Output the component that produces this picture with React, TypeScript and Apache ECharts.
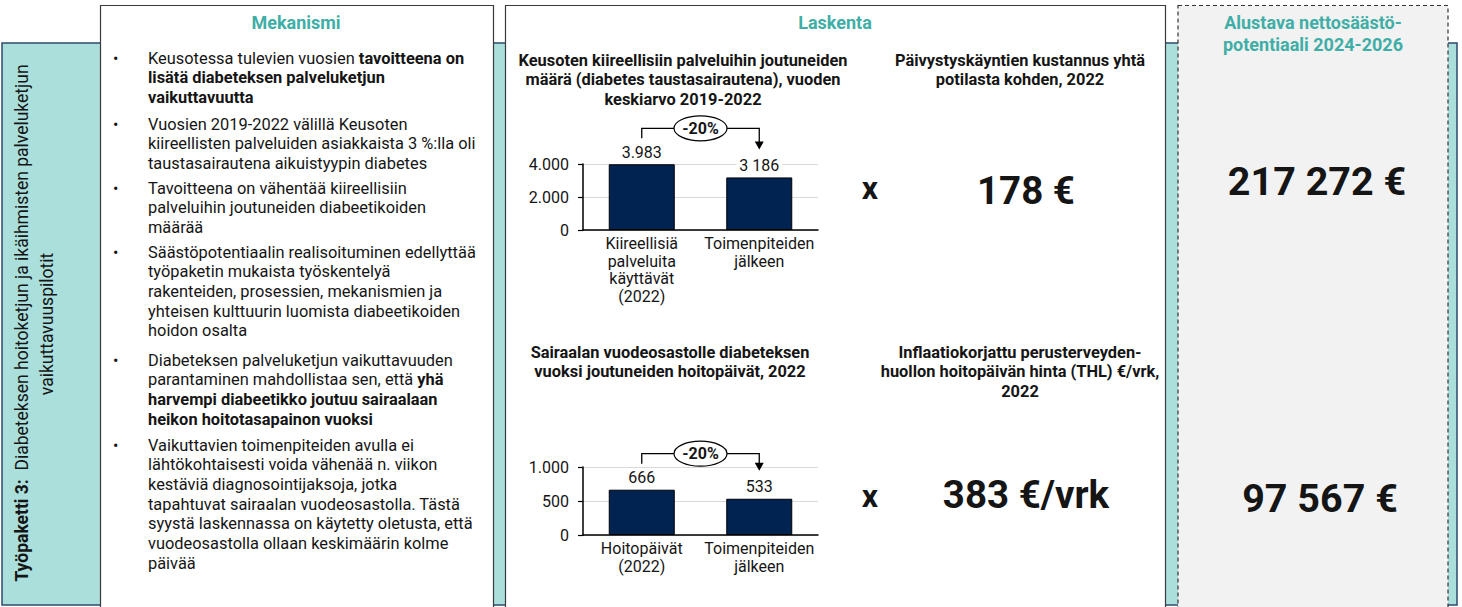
import { useEffect, useRef } from 'react';
import * as echarts from 'echarts';

const FONT = 'Roboto';
const TEAL = '#3FAEA6';
const NAVY = '#002352';
const INK = '#151515';

// ---- data ----
const chart1Title = ['Keusoten kiireellisiin palveluihin joutuneiden', 'määrä (diabetes taustasairautena), vuoden', 'keskiarvo 2019-2022'];
const chart1Categories = ['Kiireellisiä\npalveluita\nkäyttävät\n(2022)', 'Toimenpiteiden\njälkeen'];
const chart1Values = [3983, 3186];
const chart1Labels = ['3.983', '3 186'];
const chart1Max = 4000;
const chart1Interval = 2000;

const chart2Title = ['Sairaalan vuodeosastolle diabeteksen', 'vuoksi joutuneiden hoitopäivät, 2022'];
const chart2Categories = ['Hoitopäivät\n(2022)', 'Toimenpiteiden\njälkeen'];
const chart2Values = [666, 533];
const chart2Labels = ['666', '533'];
const chart2Max = 1000;
const chart2Interval = 500;

const reductionLabel = '-20%';
const cost1Title = ['Päivystyskäyntien kustannus yhtä', 'potilasta kohden, 2022'];
const cost1Value = '178 €';
const cost2Title = ['Inflaatiokorjattu perusterveyden-', 'huollon hoitopäivän hinta (THL) €/vrk,', '2022'];
const cost2Value = '383 €/vrk';
const savingsTitle = ['Alustava nettosäästö-', 'potentiaali 2024-2026'];
const savings1 = '217 272 €';
const savings2 = '97 567 €';

const sideLabel = ['{b|Työpaketti 3:}  Diabeteksen hoitoketjun ja ikäihmisten palveluketjun', 'vaikuttavuuspilotit'];

const bullets: string[][] = [
  ['Keusotessa tulevien vuosien {b|tavoitteena on}', '{b|lisätä diabeteksen palveluketjun}', '{b|vaikuttavuutta}'],
  ['Vuosien 2019-2022 välillä Keusoten', 'kiireellisten palveluiden asiakkaista 3 %:lla oli', 'taustasairautena aikuistyypin diabetes'],
  ['Tavoitteena on vähentää kiireellisiin', 'palveluihin joutuneiden diabeetikoiden', 'määrää'],
  ['Säästöpotentiaalin realisoituminen edellyttää', 'työpaketin mukaista työskentelyä', 'rakenteiden, prosessien, mekanismien ja', 'yhteisen kulttuurin luomista diabeetikoiden', 'hoidon osalta'],
  ['Diabeteksen palveluketjun vaikuttavuuden', 'parantaminen mahdollistaa sen, että {b|yhä}', '{b|harvempi diabeetikko joutuu sairaalaan}', '{b|heikon hoitotasapainon vuoksi}'],
  ['Vaikuttavien toimenpiteiden avulla ei', 'lähtökohtaisesti voida vähenää n. viikon', 'kestäviä diagnosointijaksoja, jotka', 'tapahtuvat sairaalan vuodeosastolla. Tästä', 'syystä laskennassa on käytetty oletusta, että', 'vuodeosastolla ollaan keskimäärin kolme', 'päivää'],
];
const bulletStartY = [58, 124, 188, 252, 360, 445];
const bulletLineStep = 19.7;

const fmtThousands = (v: number) => String(v).replace(/\B(?=(\d{3})+(?!\d))/g, '.');

function txt(x: number, y: number, text: string, o: any = {}) {
  const size = o.fontSize ?? 16.4;
  const weight = o.fontWeight ?? 'normal';
  const fill = o.fill ?? INK;
  const align = o.align ?? 'left';
  return {
    type: 'text',
    x,
    y,
    z: 20,
    rotation: o.rotation ?? 0,
    style: {
      text,
      fill,
      fontFamily: FONT,
      fontSize: size,
      fontWeight: weight,
      align,
      textAlign: align,
      verticalAlign: 'middle',
      textVerticalAlign: 'middle',
      rich: {
        b: { fontWeight: 'bold', fontFamily: FONT, fontSize: size, fill },
      },
    },
  };
}

function barSeries(gi: number, values: number[], labels: string[], whiteBg: boolean) {
  return {
    type: 'bar',
    xAxisIndex: gi,
    yAxisIndex: gi,
    barWidth: 66,
    data: values,
    itemStyle: { color: NAVY, borderColor: '#000', borderWidth: 1 },
    label: {
      show: true,
      position: 'top',
      distance: 4,
      fontFamily: FONT,
      fontSize: 16,
      color: INK,
      backgroundColor: whiteBg ? '#fff' : 'transparent',
      padding: [0, 3],
      formatter: (p: any) => labels[p.dataIndex],
    },
  };
}

function xAxisCfg(gi: number, cats: string[]) {
  return {
    type: 'category',
    gridIndex: gi,
    data: cats,
    axisLine: { show: true, lineStyle: { color: '#000', width: 1.5 } },
    axisTick: { show: false },
    axisLabel: { fontFamily: FONT, fontSize: 16, color: INK, lineHeight: 17.5, margin: 5, interval: 0 },
  };
}

function yAxisCfg(gi: number, max: number, interval: number) {
  return {
    type: 'value',
    gridIndex: gi,
    min: 0,
    max,
    interval,
    axisLine: { show: true, lineStyle: { color: '#000', width: 1.5 } },
    axisTick: { show: true, length: 5, lineStyle: { color: '#000', width: 1.2 } },
    splitLine: { show: true, lineStyle: { color: '#D9D9D9', width: 1 } },
    axisLabel: { fontFamily: FONT, fontSize: 16, color: INK, margin: 14, formatter: fmtThousands },
  };
}

export default function App() {
  const ref = useRef<HTMLDivElement>(null);

  useEffect(() => {
    if (!ref.current) return;
    const chart = echarts.init(ref.current, null, { renderer: 'svg', width: 1462, height: 607 });
    chart.setOption({
      animation: false,
      backgroundColor: '#fff',
      grid: [
        { left: 583, top: 164, width: 235, height: 66 },
        { left: 583, top: 467, width: 235, height: 68 },
      ],
      xAxis: [xAxisCfg(0, chart1Categories), xAxisCfg(1, chart2Categories)],
      yAxis: [yAxisCfg(0, chart1Max, chart1Interval), yAxisCfg(1, chart2Max, chart2Interval)],
      series: [
        barSeries(0, chart1Values, chart1Labels, true),
        barSeries(1, chart2Values, chart2Labels, false),
      ],
    });

    const els: any[] = [];
    // backgrounds
    els.push({ type: 'rect', z: -10, shape: { x: 2, y: 43, width: 1455, height: 562 }, style: { fill: '#AADFDC', stroke: '#2E4A6E', lineWidth: 1.5 } });
    els.push({ type: 'rect', z: -9, shape: { x: 100.5, y: 5.5, width: 393, height: 610 }, style: { fill: '#fff', stroke: '#3A3A3A', lineWidth: 1.2 } });
    els.push({ type: 'rect', z: -9, shape: { x: 505.5, y: 5.5, width: 660, height: 610 }, style: { fill: '#fff', stroke: '#3A3A3A', lineWidth: 1.2 } });
    els.push({ type: 'rect', z: -9, shape: { x: 1178, y: 5.5, width: 270, height: 610 }, style: { fill: '#F2F2F2', stroke: '#333', lineWidth: 1.2, lineDash: [4, 3] } });

    // side label
    els.push(txt(22, 323, sideLabel[0], { align: 'center', rotation: Math.PI / 2, fontSize: 17.5 }));
    els.push(txt(47, 324, sideLabel[1], { align: 'center', rotation: Math.PI / 2, fontSize: 17.5 }));

    // titles
    els.push(txt(296, 22, 'Mekanismi', { align: 'center', fontWeight: 'bold', fontSize: 18, fill: TEAL }));
    els.push(txt(835, 22, 'Laskenta', { align: 'center', fontWeight: 'bold', fontSize: 18, fill: TEAL }));
    savingsTitle.forEach((t, i) => els.push(txt(1313, 22 + i * 22, t, { align: 'center', fontWeight: 'bold', fontSize: 18, fill: TEAL })));

    // bullets
    bullets.forEach((lines, bi) => {
      const y0 = bulletStartY[bi];
      els.push(txt(113, y0, '•', { fontSize: 16 }));
      lines.forEach((l, li) => els.push(txt(148, y0 + li * bulletLineStep, l)));
    });

    // chart titles
    chart1Title.forEach((t, i) => els.push(txt(683, 60 + i * 19.7, t, { align: 'center', fontWeight: 'bold', fontSize: 16.4 })));
    chart2Title.forEach((t, i) => els.push(txt(670, 352 + i * 19.7, t, { align: 'center', fontWeight: 'bold', fontSize: 16.4 })));
    cost1Title.forEach((t, i) => els.push(txt(1020, 60 + i * 19.7, t, { align: 'center', fontWeight: 'bold', fontSize: 16.4 })));
    cost2Title.forEach((t, i) => els.push(txt(1020, 352 + i * 19.7, t, { align: 'center', fontWeight: 'bold', fontSize: 16.4 })));

    // multiplication signs and values
    els.push(txt(870, 188, 'x', { align: 'center', fontWeight: 'bold', fontSize: 32 }));
    els.push(txt(870, 496, 'x', { align: 'center', fontWeight: 'bold', fontSize: 32 }));
    els.push(txt(1026, 190, cost1Value, { align: 'center', fontWeight: 'bold', fontSize: 38.5 }));
    els.push(txt(1026, 494, cost2Value, { align: 'center', fontWeight: 'bold', fontSize: 38.5 }));
    els.push(txt(1317, 181, savings1, { align: 'center', fontWeight: 'bold', fontSize: 39.5 }));
    els.push(txt(1320, 498, savings2, { align: 'center', fontWeight: 'bold', fontSize: 39.5 }));

    // reduction brackets
    const bracket = (gi: number, values: number[]) => {
      const [x0, top0] = chart.convertToPixel({ gridIndex: gi } as any, [0, values[0]]) as number[];
      const [x1, top1] = chart.convertToPixel({ gridIndex: gi } as any, [1, values[1]]) as number[];
      const y1 = top0 - 26;
      const yH = top0 - 36;
      const tip = top1 - 28;
      els.push({ type: 'polyline', z: 15, shape: { points: [[x0, y1], [x0, yH], [x1, yH], [x1, tip - 7]] }, style: { stroke: '#000', lineWidth: 1.3, fill: null } });
      els.push({ type: 'polygon', z: 15, shape: { points: [[x1 - 4.5, tip - 8], [x1 + 4.5, tip - 8], [x1, tip]] }, style: { fill: '#000' } });
      const cx = (x0 + x1) / 2;
      els.push({ type: 'ellipse', z: 16, shape: { cx, cy: yH, rx: 26.5, ry: 12.5 }, style: { fill: '#fff', stroke: '#000', lineWidth: 1.2 } });
      els.push(txt(cx, yH, reductionLabel, { align: 'center', fontWeight: 'bold', fontSize: 16 }));
    };
    bracket(0, chart1Values);
    bracket(1, chart2Values);

    chart.setOption({ graphic: els });

    return () => chart.dispose();
  }, []);

  return <div ref={ref} style={{ position: 'absolute', left: 0, top: 0, width: 1462, height: 607 }} />;
}
